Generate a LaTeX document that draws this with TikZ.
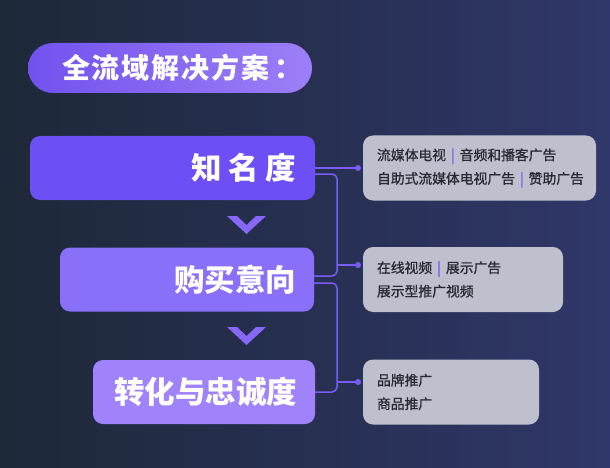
\documentclass[tikz,border=0pt]{standalone}
\usepackage{fontspec}
\newfontfamily\cjk{Noto Sans CJK SC}
\usetikzlibrary{positioning}

\definecolor{bgleft}{HTML}{1D2838}
\definecolor{bgright}{HTML}{30376A}
\definecolor{pillleft}{HTML}{7252EE}
\definecolor{pillright}{HTML}{9C7FF7}
\definecolor{stageA}{HTML}{6C4FF5}
\definecolor{stageB}{HTML}{8A6FF8}
\definecolor{stageC}{HTML}{A083FA}
\definecolor{infogray}{HTML}{BEC0CD}
\definecolor{infoink}{HTML}{262833}
\definecolor{linkc}{HTML}{7A5CF2}
\definecolor{sepc}{HTML}{8166F2}
\definecolor{chevc}{HTML}{8767F6}

\newcommand{\sepbar}{\kern5pt{\addfontfeature{FakeBold=2}\textcolor{sepc}{|}}\kern5pt}

\begin{document}
\begin{tikzpicture}[x=1pt,y=-1pt,
  stagebox/.style={rounded corners=10pt, minimum height=64pt, inner sep=0pt},
  stagetext/.style={inner sep=0pt, text=white, font=\cjk\bfseries\fontsize{30.5}{32}\selectfont},
  infobox/.style={fill=infogray, rounded corners=10pt, inner sep=0pt, minimum height=65pt},
  infotext/.style={inner sep=0pt, align=left, text=infoink,
    font=\cjk\fontsize{13.8}{23.5}\selectfont\addfontfeature{FakeBold=0.8}},
  link/.style={draw=linkc, line width=1.5pt, rounded corners=5pt},
  linkdot/.style={circle, fill=linkc, inner sep=0pt, minimum size=6pt}]
  \shade[left color=bgleft, right color=bgright] (0,0) rectangle (610,468);

  % title
  \node[left color=pillleft, right color=pillright, rounded corners=25pt,
        minimum width=284pt, minimum height=50pt] (title) at (170,68) {};
  \node[inner sep=0pt, text=white, right=34pt of title.west,
        font=\cjk\bfseries\fontsize{28}{30}\selectfont\addfontfeature{LetterSpace=7}] (titletext) {全流域解决方案\kern5pt：};

  % stages
  \node[stagebox, fill=stageA, minimum width=285pt] (aware)  at (172.5,168) {};
  \node[stagebox, fill=stageB, minimum width=254pt] (intent) at (187,279.5) {};
  \node[stagebox, fill=stageC, minimum width=222pt] (loyal)  at (204,392) {};
  \node[stagetext, left=19pt of aware.east] (awaretext) {知\kern6.5pt名\kern6.5pt度};
  \node[stagetext, left=18pt of intent.east] (intenttext) {购买意向};
  \node[stagetext, left=18pt of loyal.east] (loyaltext) {转化与忠诚度};
  \fill[chevc] (227,216) -- (237,216) -- (246.5,225) -- (256,216) -- (266,216) -- (246.5,234) -- cycle;
  \fill[chevc] (227,327) -- (237,327) -- (246.5,336) -- (256,327) -- (266,327) -- (246.5,345) -- cycle;

  % channels
  \node[infobox, minimum width=233pt] (reach)   at (479.5,168) {};
  \node[infobox, minimum width=200pt] (display) at (463,279.5) {};
  \node[infobox, minimum width=176pt] (brand)   at (451,392) {};
  \node[infotext, right=14pt of reach.west] (reachtext)
    {流媒体电视\sepbar 音频和播客广告\\自助式流媒体电视广告\sepbar 赞助广告};
  \node[infotext, right=14pt of display.west] (displaytext)
    {在线视频\sepbar 展示广告\\展示型推广视频};
  \node[infotext, right=14pt of brand.west] (brandtext)
    {品牌推广\\商品推广};

  % links
  \coordinate (spine) at (337,0);
  \node[linkdot] (dotA) at (358,168) {};
  \node[linkdot] (dotB) at (358,265) {};
  \node[linkdot] (dotC) at (358,382) {};
  \draw[link] (aware.east |- dotA) -- (dotA);
  \draw[link] ([yshift=-6pt]aware.east) -- ([yshift=-6pt]aware.east -| spine) |- ([yshift=3.5pt]intent.east);
  \draw[link] (spine |- dotB) -- (dotB);
  \draw[link] ([yshift=-3.5pt]intent.east) -- ([yshift=-3.5pt]intent.east -| spine) |- (loyal.east);
  \draw[link] (spine |- dotC) -- (dotC);
\end{tikzpicture}
\end{document}
